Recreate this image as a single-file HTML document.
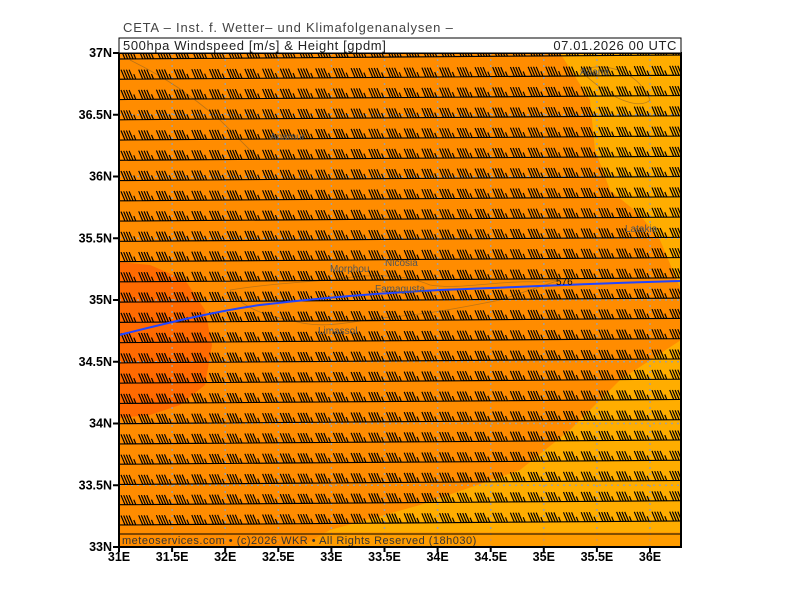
<!DOCTYPE html>
<html><head><meta charset="utf-8"><style>
body{margin:0;background:#fff;width:800px;height:600px;overflow:hidden;font-family:"Liberation Sans",sans-serif}
</style></head><body>
<svg id="s" width="800" height="600" xmlns="http://www.w3.org/2000/svg">
<defs><clipPath id="c"><rect x="119" y="53" width="562" height="494"/></clipPath></defs>
<g clip-path="url(#c)">
<rect x="119" y="53" width="562" height="494" fill="#ff8c00"/>
<path d="M560,53 L681,53 L681,290 L660,240 L640,215 L610,190 L595,150 L590,100 Z" fill="#ffad00"/>
<path d="M300,547 L330,530 L420,505 L520,470 L570,430 L620,380 L681,340 L681,547 Z" fill="#ffad00"/>
<path d="M119,262 L150,265 L185,280 L205,310 L212,345 L205,385 L180,405 L150,415 L119,418 Z" fill="#ff6a00"/>
<g id="grid" stroke="#a0a0a0" stroke-width="1.5" stroke-dasharray="2,4"></g>
<g fill="none" stroke="#a06a20" stroke-width="0.8" opacity="0.7">
<path d="M230,290 C260,285 300,282 330,280 C360,275 400,272 430,285 C460,290 500,280 540,282 L560,280 L500,300 C450,310 420,315 380,318 C350,322 320,330 290,320 C260,315 240,305 230,290 Z"/>
<path d="M130,60 C170,80 190,95 220,120 C240,140 250,150 260,160"/>
<path d="M580,70 C610,60 640,75 650,100 C640,110 610,100 580,70"/>
</g>
<g id="barbs" stroke="#000" stroke-width="1.15" fill="none"></g>
<path d="M119,335 C160,325 210,312 260,305 C320,298 380,293 440,290 C520,287 600,283 681,281" stroke="#2244ff" stroke-width="2" fill="none"/>
<text x="556" y="285" font-size="10" fill="#111">576</text>
<g font-size="10" fill="#555">
<text x="330" y="272">Morphou</text><text x="385" y="266">Nicosia</text>
<text x="375" y="292">Famagusta</text><text x="318" y="334">Limassol</text>
<text x="625" y="232">Latakia</text><text x="580" y="75">Adana</text>
<text x="270" y="140">Anamur</text>
</g>
<rect x="119" y="532" width="562" height="15" fill="#ff8c00" opacity="0.5"/>
<line x1="119" y1="534" x2="681" y2="534" stroke="#000" stroke-width="1"/>
<text x="122" y="544" font-size="11" fill="#333" letter-spacing="0.5">meteoservices.com • (c)2026 WKR • All Rights Reserved (18h030)</text>
</g>
<rect x="119" y="53" width="562" height="494" fill="none" stroke="#000" stroke-width="2"/>
<text x="123" y="32" font-size="13" fill="#444" letter-spacing="0.8">CETA – Inst. f. Wetter– und Klimafolgenanalysen –</text>
<rect x="119" y="38" width="562" height="15" fill="#fff" stroke="#000" stroke-width="1"/>
<text x="123" y="50" font-size="13" fill="#222" letter-spacing="0.6">500hpa Windspeed [m/s] &amp; Height [gpdm]</text>
<text x="677" y="50" font-size="13" fill="#222" text-anchor="end" letter-spacing="0.6">07.01.2026 00 UTC</text>
<g id="ax" font-size="12.5" font-weight="bold" fill="#000"></g>
</svg>
<script>
var ns="http://www.w3.org/2000/svg";
function el(p,t,a,tx){var e=document.createElementNS(ns,t);for(var k in a)e.setAttribute(k,a[k]);if(tx)e.textContent=tx;document.getElementById(p).appendChild(e);}
var b="";
for(var k=0;k<24;k++){
 var y0=59+20.26*k;
 b+="M119,"+y0+" L681,"+(y0-4)+" ";
 for(var i=0;i<32;i++){
  var x=122+17.7*i; var y=y0-4*(x-119)/562;
  for(var f=0;f<4;f++){var fx=x+3+f*2.7;b+="M"+fx.toFixed(1)+","+y.toFixed(1)+" L"+(fx-4).toFixed(1)+","+(y-9.5).toFixed(1)+" ";}
  var fx=x+3+4*2.7;b+="M"+fx.toFixed(1)+","+y.toFixed(1)+" L"+(fx-2).toFixed(1)+","+(y-5).toFixed(1)+" ";
 }
}
el("barbs","path",{d:b});
var lats=["37N","36.5N","36N","35.5N","35N","34.5N","34N","33.5N","33N"];
for(var i=0;i<9;i++){var y=53+61.75*i;el("ax","text",{x:112,y:y+4,"text-anchor":"end"},lats[i]);el("ax","line",{x1:113,y1:y,x2:119,y2:y,stroke:"#000","stroke-width":2});
 if(i>0&&i<8)el("grid","line",{x1:119,y1:y,x2:681,y2:y});}
var lons=["31E","31.5E","32E","32.5E","33E","33.5E","34E","34.5E","35E","35.5E","36E"];
for(var i=0;i<11;i++){var x=119+53.1*i;el("ax","text",{x:x,y:561,"text-anchor":"middle"},lons[i]);el("ax","line",{x1:x,y1:547,x2:x,y2:552,stroke:"#000","stroke-width":2});
 if(i>0)el("grid","line",{x1:x,y1:53,x2:x,y2:547});}
</script>
</body></html>
